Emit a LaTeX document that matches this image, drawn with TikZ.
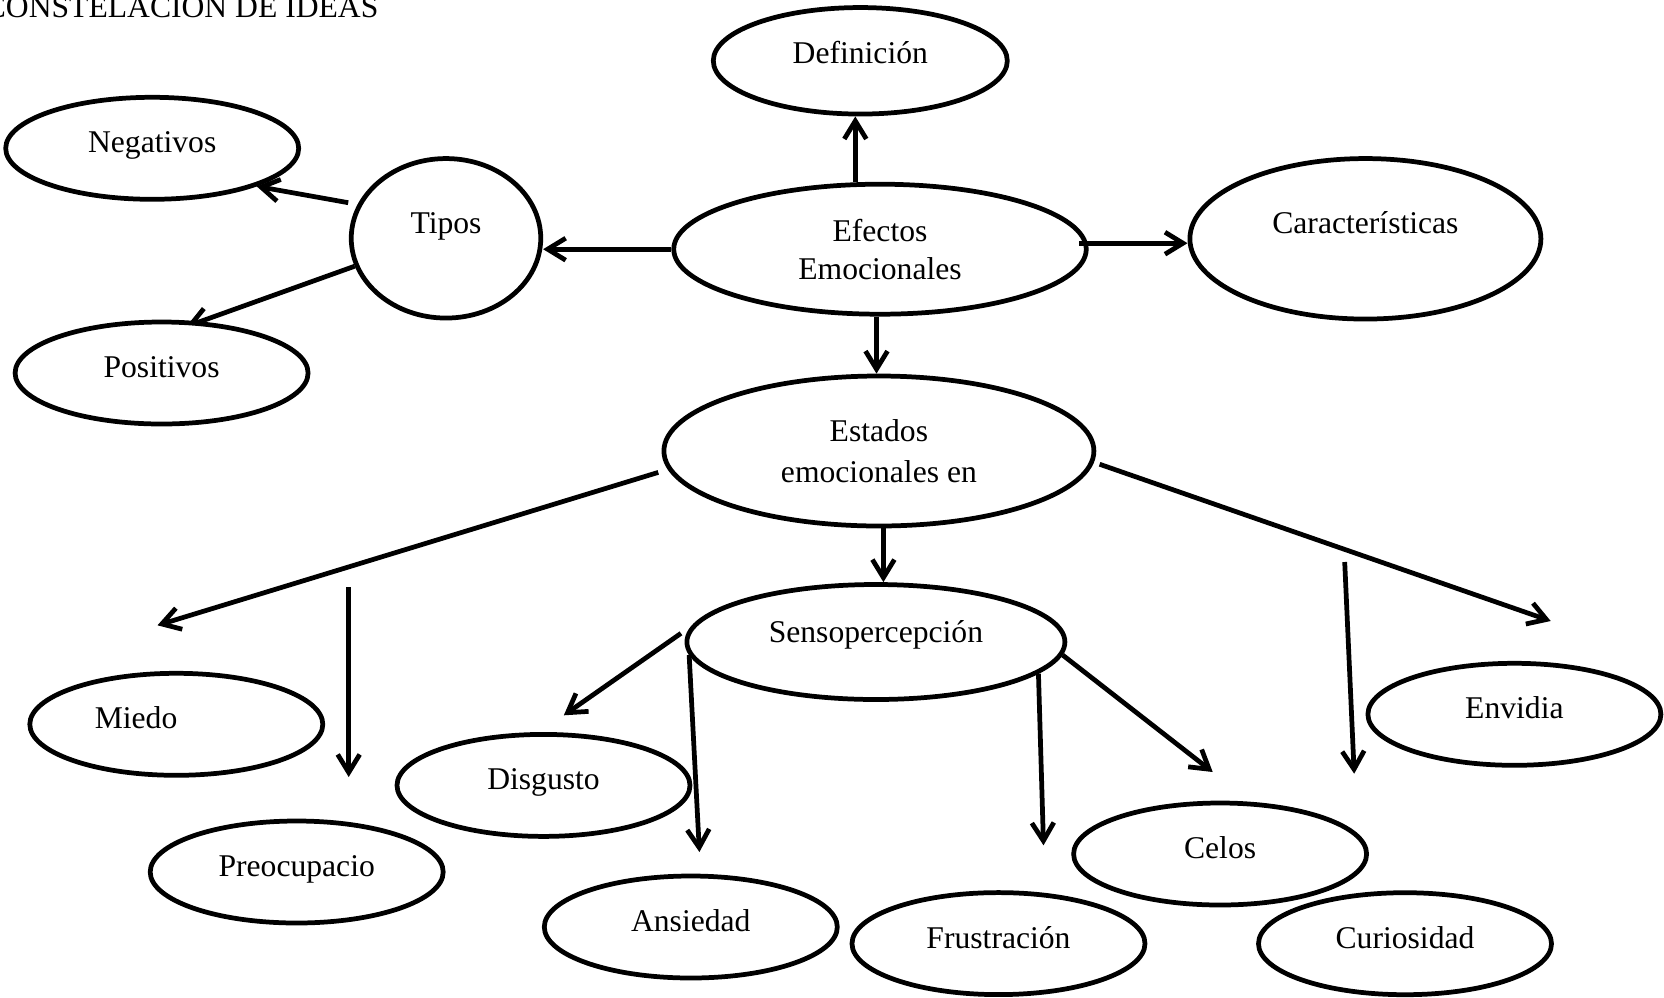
\documentclass[tikz,border=0pt]{standalone}
\usepackage{fontspec}
\setmainfont{Liberation Serif}
\usetikzlibrary{shapes.geometric, arrows.meta, backgrounds}

\begin{document}
\begin{tikzpicture}[every node/.style={font=\fontsize{18}{21.8}\selectfont},
  ell/.style={draw, ellipse, line width=2.7pt, inner sep=0pt,
    minimum width=5.86cm, minimum height=2.04cm},
  sl/.style={text height=#1, text depth=0pt},
  sl/.default=0.18cm,
  arr/.style={-{Straight Barb[length=0.36cm, width=0.44cm]}, line width=2.7pt}
]
  \useasboundingbox (0,0) rectangle (33.28,-19.94);

  % Title
  \node[anchor=base east, inner sep=0pt] (titulo) at (7.576,-0.35) {CONSTELACION DE IDEAS};

  % Upper part
  \node[ell, sl=0.1cm, minimum width=5.88cm, minimum height=2.13cm] (def) at (17.206,-1.216) {Definición};
  \node[ell, align=center, minimum width=8.25cm, minimum height=2.6cm] (efec) at (17.6,-4.984) {Efectos\\Emocionales};
  \node[ell, text height=0pt, text depth=0.2cm, minimum width=3.79cm, minimum height=3.19cm] (tipos) at (8.92,-4.766) {Tipos};
  \node[ell, sl] (neg) at (3.044,-2.966) {Negativos};
  \node[ell, sl, fill=white] (pos) at (3.232,-7.46) {Positivos};
  \node[ell, text height=0pt, text depth=0.22cm, minimum width=7.02cm, minimum height=3.21cm] (car) at (27.308,-4.776) {Características};

  % Middle
  \node[ell, align=center, minimum width=8.6cm, minimum height=3.0cm] (est) at (17.578,-9.02) {Estados\\[1.9pt]emocionales en};
  \node[ell, sl=0pt, minimum width=7.56cm, minimum height=2.3cm] (sens) at (17.518,-12.84) {Sensopercepción};

  % Lower ellipses
  \node[ell, sl] (miedo) at (3.526,-14.486) {Miedo\hspace*{1.61cm}};
  \node[ell, sl] (envi) at (30.288,-14.286) {Envidia};
  \node[ell, sl] (disg) at (10.87,-15.708) {Disgusto};
  \node[ell, sl] (preoc) at (5.934,-17.44) {Preocupacio};
  \node[ell, sl] (celos) at (24.402,-17.08) {Celos};
  \node[ell, sl] (ansi) at (13.816,-18.54) {Ansiedad};
  \node[ell, sl] (frus) at (19.97,-18.872) {Frustración};
  \node[ell, sl] (curio) at (28.1,-18.874) {Curiosidad};

  % Loose arrow ends
  \coordinate (m1) at (3.15,-12.506);
  \coordinate (p0) at (6.974,-11.74);
  \coordinate (p1) at (6.974,-15.54);
  \coordinate (d1) at (11.276,-14.306);
  \coordinate (a1) at (13.988,-17.04);
  \coordinate (f1) at (20.87,-16.906);
  \coordinate (c1) at (24.254,-15.44);
  \coordinate (e1) at (31.014,-12.42);
  \coordinate (u0) at (26.894,-11.24);
  \coordinate (u1) at (27.084,-15.474);

  % Arrows from the centre
  \draw[arr] ([xshift=-0.1cm]def.south |- efec.north) -- ([xshift=-0.1cm]def.south);
  \draw[arr] (efec.west) -- (efec.west -| tipos.east);
  \draw[arr, shorten <=-0.19cm] ([yshift=0.12cm]efec.east) -- ([yshift=0.12cm]efec.east -| car.west);
  \draw[arr] ([xshift=-0.07cm]efec.south) -- ([xshift=-0.07cm]efec.south |- est.north);
  \draw[arr, shorten <=0.19cm] (tipos.159) -- (neg.-20);
  \begin{scope}[on background layer]
    \draw[arr, shorten >=-0.3cm] (tipos.197) -- (pos.53);
  \end{scope}

  % Arrows from Estados
  \draw[arr, shorten <=0.2cm] (est.185) -- (m1);
  \draw[arr] (p0) -- (p1);
  \draw[arr] ([xshift=0.09cm]est.south) -- ([xshift=0.09cm]est.south |- sens.north);
  \draw[arr, shorten <=0.12cm] (est.-3) -- (e1);
  \draw[arr] (u0) -- (u1);

  % Arrows from Sensopercepcion
  \draw[arr, shorten <=0.26cm] (sens.175) -- (d1);
  \draw[arr] (sens.184) -- (a1);
  \draw[arr] (sens.-11) -- (f1);
  \draw[arr] (sens.-4) -- (c1);
\end{tikzpicture}
\end{document}
